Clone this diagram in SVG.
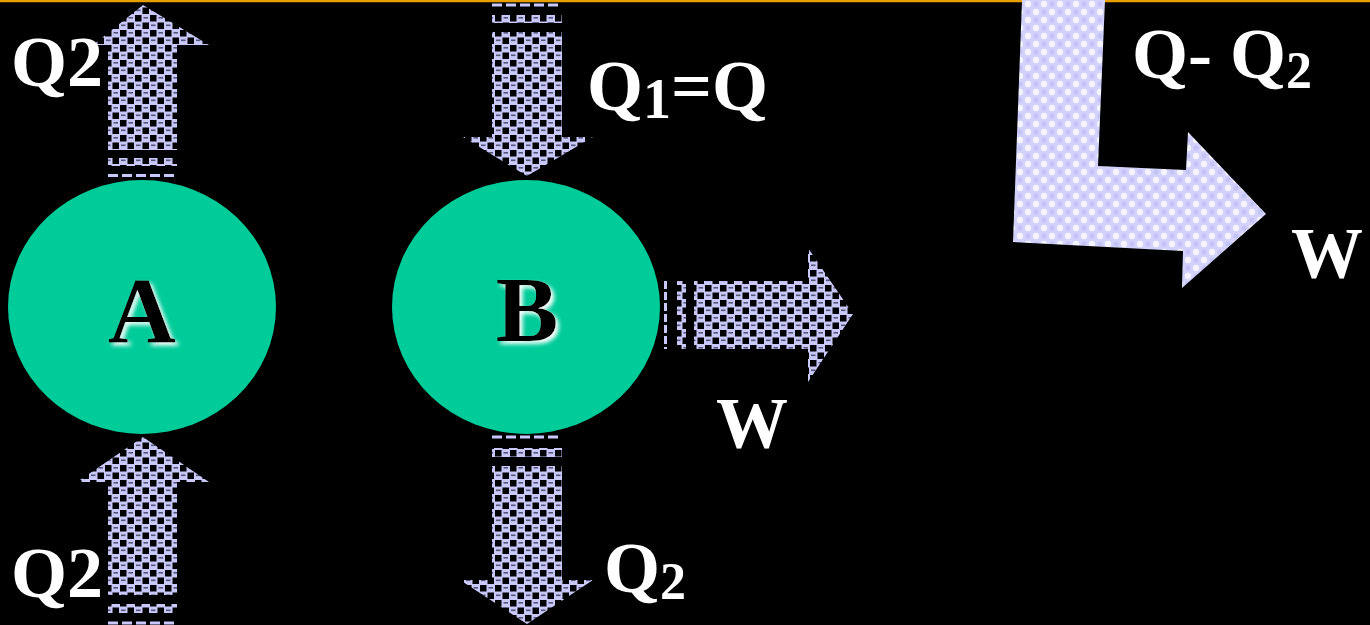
<svg xmlns="http://www.w3.org/2000/svg" width="1370" height="625" viewBox="0 0 1370 625">
<style>
.lbl{font-family:"Liberation Serif","Times New Roman",serif;font-weight:bold;fill:#ffffff;font-size:72px}
.sub{font-size:52px}
.node{fill:#00cc99}
.nl{font-family:"Liberation Serif","Times New Roman",serif;font-weight:bold;font-size:94px;text-anchor:middle;fill:#000000;filter:url(#shadow)}
.chk{fill:url(#chk)}
.dash{stroke:#c8c8ff;stroke-width:3;stroke-dasharray:10 4;fill:none}
</style>
<defs>
<pattern id="chk" width="15" height="15" patternUnits="userSpaceOnUse">
<rect width="15" height="15" fill="#c8c8fa"/>
<rect x="0" y="0" width="6.5" height="6.5" fill="#000"/>
<rect x="7.5" y="7.5" width="6.5" height="6.5" fill="#000"/>
<rect x="8.5" y="2" width="4.5" height="1.6" fill="#555577"/>
<rect x="1" y="9.5" width="4.5" height="1.6" fill="#555577"/>
</pattern>
<pattern id="dots" width="16" height="16" patternUnits="userSpaceOnUse">
<rect width="16" height="16" fill="#d2d2fc"/>
<circle cx="4" cy="4" r="3.2" fill="#f4f4ff"/>
<circle cx="12" cy="12" r="3.2" fill="#f4f4ff"/>
<circle cx="12" cy="4" r="2.5" fill="#c4c4f4"/>
<circle cx="4" cy="12" r="2.5" fill="#c4c4f4"/>
</pattern>
<filter id="shadow" x="-30%" y="-30%" width="160%" height="160%">
<feGaussianBlur in="SourceAlpha" stdDeviation="2" result="b"/>
<feOffset in="b" dx="3" dy="3" result="o"/>
<feFlood flood-color="#ffffff"/>
<feComposite in2="o" operator="in" result="s"/>
<feMerge><feMergeNode in="s"/><feMergeNode in="SourceGraphic"/></feMerge>
</filter>
</defs>
<rect width="1370" height="625" fill="#000"/>
<line x1="0" y1="1" x2="1370" y2="1" stroke="#e8a000" stroke-width="2.5"/>

<g id="connectors">
<g id="arrow-A-top">
<polygon class="chk" points="108,150 108,45 93,45 143,5 209,45 177,45 177,150"/>
<rect class="chk" x="108" y="158" width="69" height="8"/>
<line class="dash" x1="108" y1="175.5" x2="177" y2="175.5"/>
</g>
<g id="arrow-A-bottom">
<polygon class="chk" points="108,595 108,482 77,482 143,437 209,482 177,482 177,595"/>
<rect class="chk" x="108" y="604" width="69" height="9"/>
<line class="dash" x1="108" y1="623" x2="177" y2="623"/>
</g>
<g id="arrow-B-top">
<line class="dash" x1="492" y1="5" x2="562" y2="5"/>
<rect class="chk" x="492" y="15" width="70" height="8"/>
<polygon class="chk" points="492,32 562,32 562,137 593,137 527,176 463,137 492,137"/>
</g>
<g id="arrow-B-bottom">
<line class="dash" x1="492" y1="437" x2="562" y2="437"/>
<rect class="chk" x="492" y="448" width="70" height="9"/>
<polygon class="chk" points="492,466 562,466 562,580 593,580 527,624 460,580 492,580"/>
</g>
<g id="arrow-B-right">
<line x1="665.5" y1="281" x2="665.5" y2="349" stroke="#c8c8ff" stroke-width="3" stroke-dasharray="8 3"/>
<rect class="chk" x="677" y="281" width="9" height="68"/>
<polygon class="chk" points="694,281 808,281 808,248 853,314 808,382 808,349 694,349"/>
</g>
<g id="arrow-L">
<polygon fill="url(#dots)" points="1022,0 1105,0 1098,166 1186,170 1188,132 1266,214 1182,288 1183,251 1013,242"/>
</g>
</g>

<g id="node-A">
<ellipse class="node" cx="142" cy="307" rx="134" ry="127"/>
<text class="nl" x="142" y="342">A</text>
</g>
<g id="node-B">
<ellipse class="node" cx="526" cy="307" rx="134" ry="127"/>
<text class="nl" x="527" y="341">B</text>
</g>

<g id="labels">
<text class="lbl" x="11" y="86">Q2</text>
<text class="lbl" x="11" y="597">Q2</text>
<text class="lbl" x="587" y="110">Q<tspan class="sub" dy="8" style="font-size:56px">1</tspan><tspan dy="-8">=Q</tspan></text>
<text class="lbl" x="1132" y="78">Q- Q<tspan class="sub" dy="10">2</tspan></text>
<text class="lbl" x="604" y="592">Q<tspan class="sub" dy="7">2</tspan></text>
<text class="lbl" x="716" y="447">W</text>
<text class="lbl" x="1291" y="277">W</text>
</g>
</svg>
